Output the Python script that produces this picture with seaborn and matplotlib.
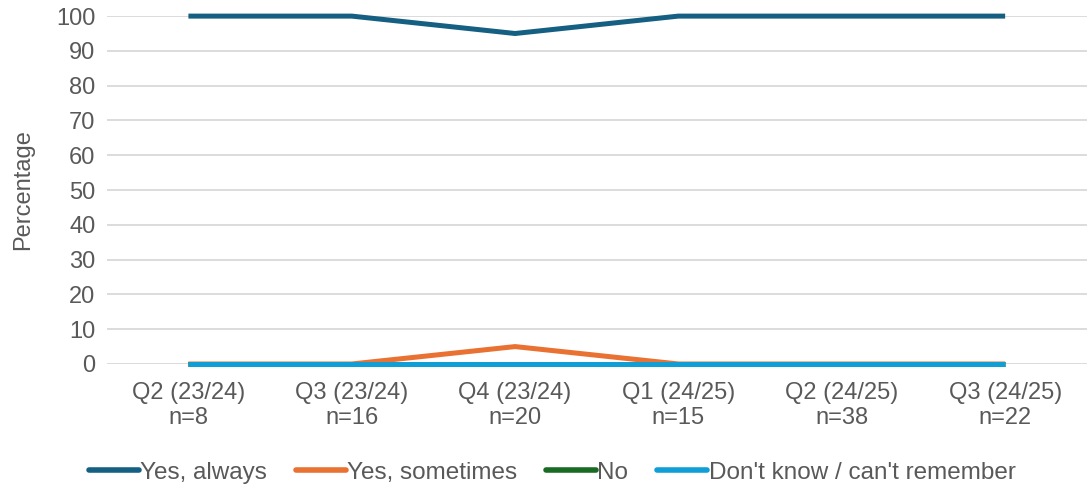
import matplotlib
matplotlib.use("Agg")
import matplotlib.pyplot as plt
import seaborn as sns
import pandas as pd

quarters = ["Q2 (23/24)", "Q3 (23/24)", "Q4 (23/24)", "Q1 (24/25)", "Q2 (24/25)", "Q3 (24/25)"]
sample_sizes = [8, 16, 20, 15, 38, 22]

yes_always = [100, 100, 95, 100, 100, 100]
yes_sometimes = [0, 0, 5, 0, 0, 0]
no = [0, 0, 0, 0, 0, 0]
dont_know = [0, 0, 0, 0, 0, 0]

series_names = ["Yes, always", "Yes, sometimes", "No", "Don't know / can't remember"]
series_values = [yes_always, yes_sometimes, no, dont_know]
palette = ["#156082", "#E97132", "#196B24", "#0F9ED5"]

labels = [f"{q}\nn={n}" for q, n in zip(quarters, sample_sizes)]
rows = []
for name, vals in zip(series_names, series_values):
    for lab, v in zip(labels, vals):
        rows.append({"Quarter": lab, "Percentage": v, "Response": name})
df = pd.DataFrame(rows)

sns.set_theme(style="white")
plt.rcParams["font.family"] = ["Liberation Sans", "DejaVu Sans"]
text_color = "#595959"

fig = plt.figure(figsize=(10.89, 4.91), dpi=100)
ax = fig.add_axes([0.098, 0.2587, 0.9, 0.7085])

sns.lineplot(data=df, x="Quarter", y="Percentage", hue="Response",
             hue_order=series_names, palette=palette, linewidth=3.6,
             sort=False, legend=True, ax=ax)
for line in ax.lines:
    line.set_clip_on(False)
    line.set_solid_capstyle("butt")
    line.set_zorder(3)

ax.set_xlim(-0.5, len(labels) - 0.5)
ax.set_ylim(0, 100)
ax.set_yticks(range(0, 101, 10))
ax.yaxis.grid(True, color="#D9D9D9", linewidth=1.3)
ax.set_axisbelow(True)
for s in ax.spines.values():
    s.set_visible(False)
ax.tick_params(axis="both", length=0, labelsize=17, colors=text_color, pad=8)
ax.tick_params(axis="x", pad=13)
for t in ax.get_xticklabels():
    t.set_linespacing(1.2)
ax.set_xlabel("")
ax.set_ylabel("Percentage", fontsize=17, color=text_color, labelpad=16)

handles, lbls = ax.get_legend_handles_labels()
ax.get_legend().remove()
for h in handles:
    h.set_linewidth(4)
    h.set_solid_capstyle("round")
leg = fig.legend(handles, lbls, loc="lower center", bbox_to_anchor=(0.507, -0.03),
                 ncol=4, frameon=False, fontsize=17.5, handlelength=2.05,
                 handletextpad=0.05, columnspacing=1.2)
for t in leg.get_texts():
    t.set_color(text_color)

fig.savefig("out.png", dpi=100)
